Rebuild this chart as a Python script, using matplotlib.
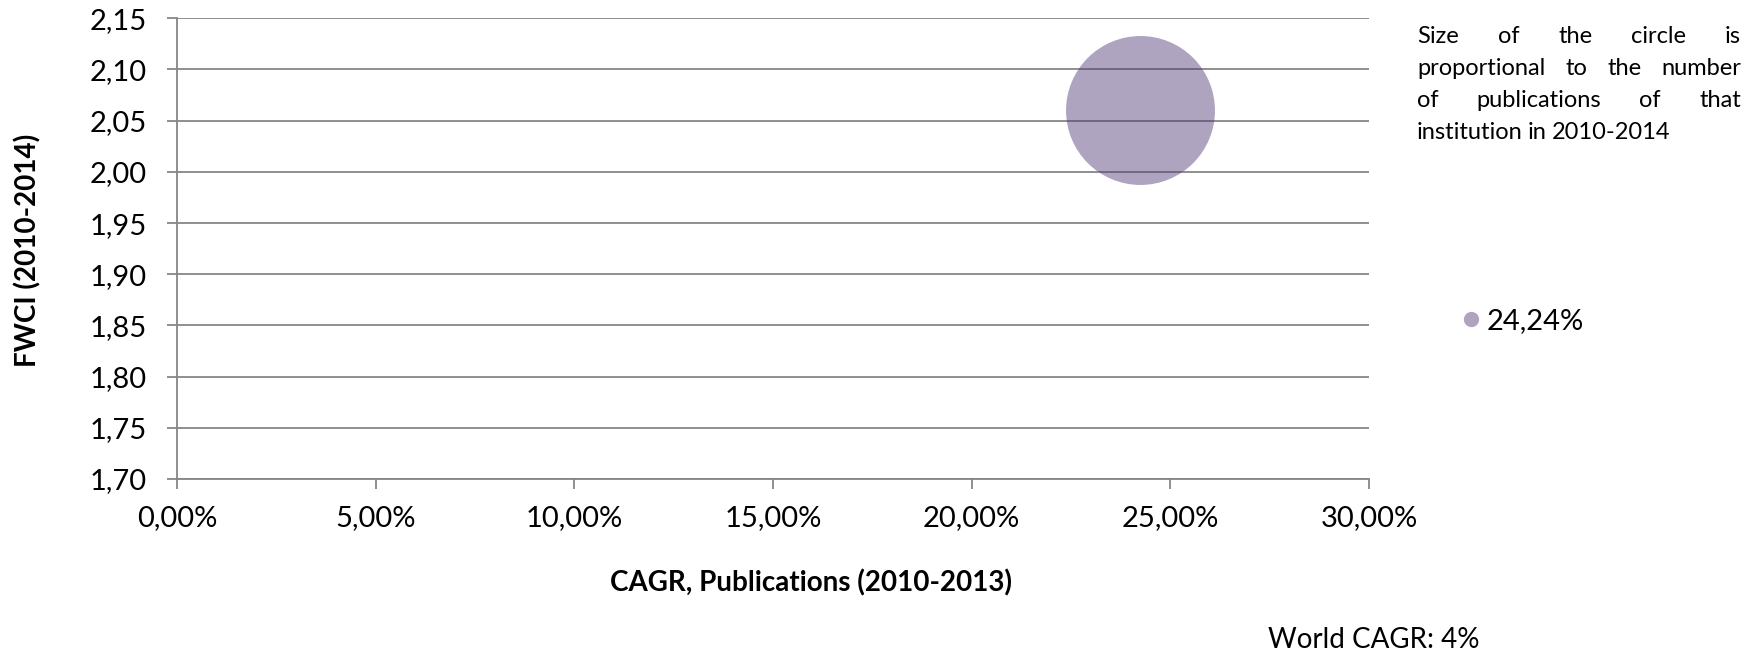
import matplotlib.pyplot as plt
from matplotlib.lines import Line2D
from matplotlib.ticker import FuncFormatter, MultipleLocator

plt.rcParams['font.family'] = ['Lato', 'DejaVu Sans']

# bubble data: CAGR of publications (%) and FWCI
cagr = [24.24]
fwci = [2.06]
labels = ['24,24%']

note_lines = [
    ['Size', 'of', 'the', 'circle', 'is'],
    ['proportional', 'to', 'the', 'number'],
    ['of', 'publications', 'of', 'that'],
    ['institution', 'in', '2010-2014'],
]
world_cagr = 'World CAGR: 4%'

W, H = 1764, 654
fig = plt.figure(figsize=(W / 100, H / 100), dpi=100)
ax = fig.add_axes([177 / W, 1 - 479 / H, (1369 - 177) / W, (479 - 18.3) / H])

grid_col = '#868686'
bubble_col = '#4f3573'

ax.scatter(cagr, fwci, s=11500, color=bubble_col, alpha=0.45, linewidths=0, zorder=3)

ax.set_xlim(0, 30)
ax.set_ylim(1.70, 2.15)
ax.xaxis.set_major_locator(MultipleLocator(5))
ax.yaxis.set_major_locator(MultipleLocator(0.05))
ax.xaxis.set_major_formatter(FuncFormatter(lambda v, p: f'{v:.2f}%'.replace('.', ',')))
ax.yaxis.set_major_formatter(FuncFormatter(lambda v, p: f'{v:.2f}'.replace('.', ',')))

ax.grid(axis='y', color=grid_col, linewidth=1.3, zorder=1)
ax.set_axisbelow(True)
for side in ['top', 'right']:
    ax.spines[side].set_visible(False)
for side in ['left', 'bottom']:
    ax.spines[side].set_color(grid_col)
    ax.spines[side].set_linewidth(1.3)
ax.tick_params(axis='both', direction='out', length=7, width=1.3, color=grid_col,
               labelsize=21, labelcolor='black')
ax.tick_params(axis='y', pad=15)
ax.tick_params(axis='x', pad=12)

ax.set_xlabel('CAGR, Publications (2010-2013)', fontsize=20, fontweight='bold')
ax.xaxis.set_label_coords(0.532, -0.226)
ax.xaxis.label.set_va('center')
ax.set_ylabel('FWCI (2010-2014)', fontsize=20, fontweight='bold')
ax.yaxis.set_label_coords(-0.125, 0.497)
ax.yaxis.label.set_va('center')

handle = Line2D([], [], marker='o', linestyle='', markersize=11,
                markerfacecolor=bubble_col, markeredgewidth=0, alpha=0.45)
ax.legend([handle], labels, loc='center left', frameon=False, fontsize=21,
          bbox_to_anchor=(1459 / W, 1 - 321 / H), bbox_transform=fig.transFigure,
          handletextpad=0.15, handlelength=0.8, borderaxespad=0, borderpad=0)

# justified note about bubble size
renderer = fig.canvas.get_renderer()
left_px, right_px = 1417, 1741
baselines = [43, 75, 107, 139]
for i, (words, base) in enumerate(zip(note_lines, baselines)):
    texts = [fig.text(0, 1 - base / H, w, fontsize=17, va='baseline', ha='left') for w in words]
    widths = [t.get_window_extent(renderer).width for t in texts]
    if i < len(note_lines) - 1:
        gap = (right_px - left_px - sum(widths)) / (len(words) - 1)
    else:
        gap = texts[0].get_fontsize() * 0.3
    x = left_px
    for t, w in zip(texts, widths):
        t.set_x(x / W)
        x += w + gap

fig.text(1268 / W, 1 - 640 / H, world_cagr, fontsize=20, va='center', ha='left')

fig.savefig('out.png', dpi=100)
